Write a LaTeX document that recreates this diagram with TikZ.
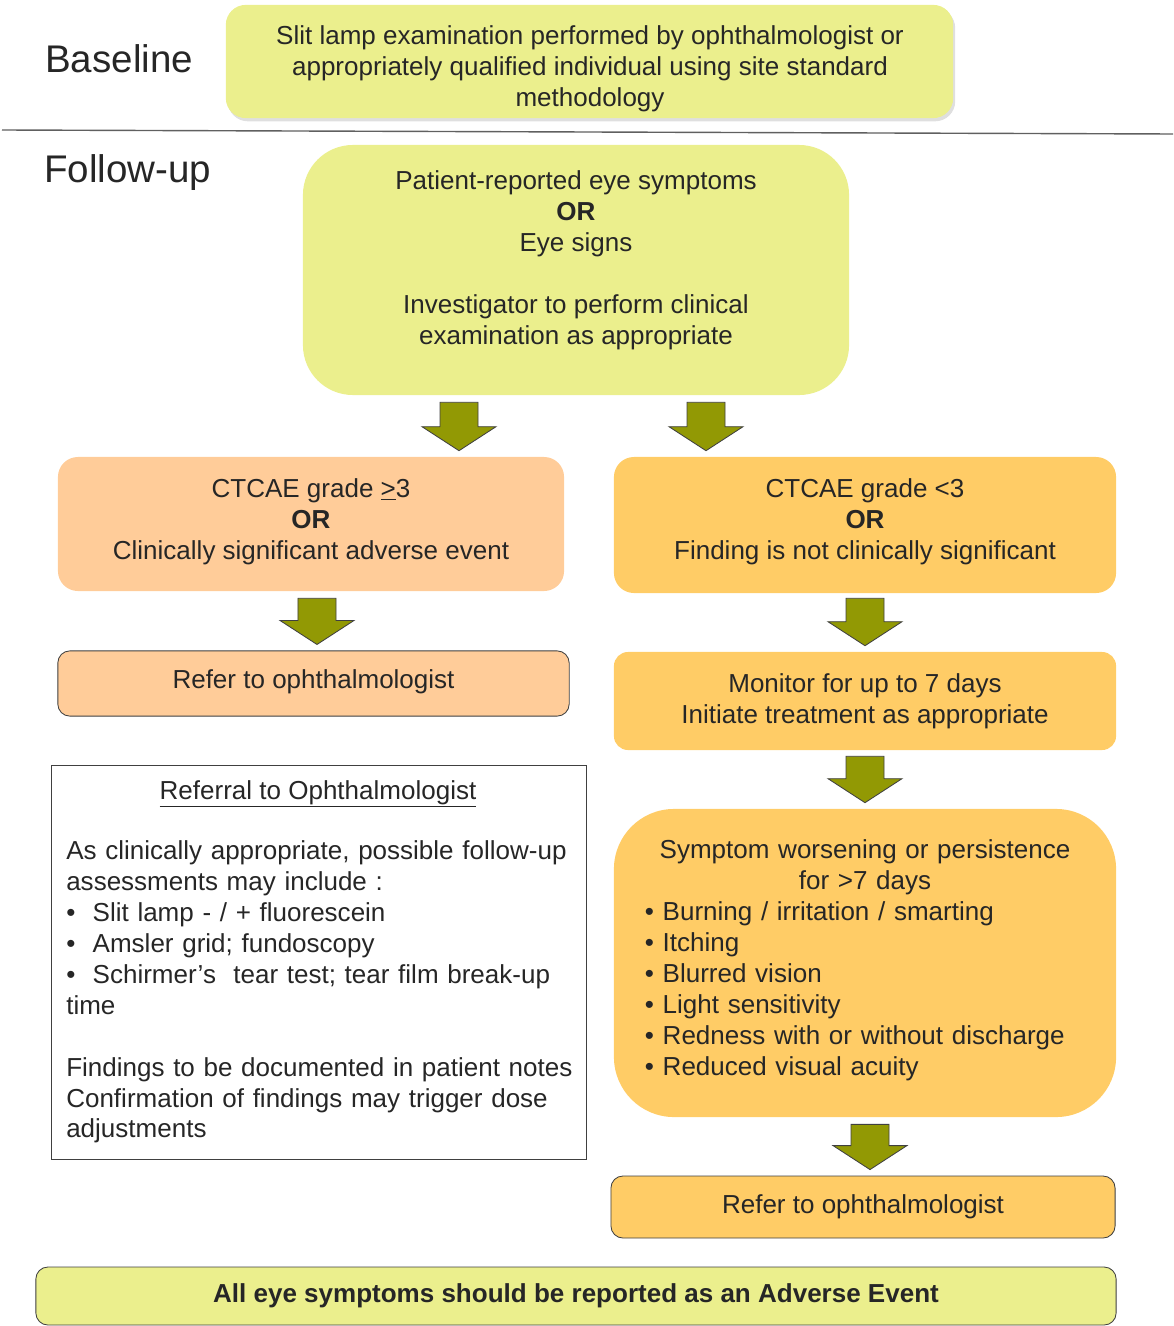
\documentclass[tikz,border=0pt]{standalone}
\usepackage{fontspec}
\setmainfont{Liberation Sans}
\usetikzlibrary{calc,shadows}

\definecolor{colYel}{HTML}{EBEF8D}
\definecolor{colPeach}{HTML}{FFCC99}
\definecolor{colOrange}{HTML}{FFCC66}
\definecolor{colOlive}{HTML}{929904}
\definecolor{colEdge}{HTML}{404040}
\definecolor{colText}{HTML}{262626}
\definecolor{colRule}{HTML}{606060}

\begin{document}
\begin{tikzpicture}[x=0.025cm,y=-0.025cm,
  every node/.style={font=\fontsize{18.5pt}{22pt}\selectfont, text=colText},
  box/.style={rounded corners=0.5cm, inner sep=0pt, align=center},
  yelbox/.style={box, fill=colYel},
  peachbox/.style={box, fill=colPeach},
  orangebox/.style={box, fill=colOrange},
  edged/.style={draw=colEdge, line width=0.6pt, rounded corners=0.3cm},
  heading/.style={font=\fontsize{27.4pt}{33pt}\selectfont, anchor=base west, inner sep=0pt},
  fatarrow/.style={fill=colOlive, draw=colEdge, line width=0.6pt,
    to path={($(\tikztostart)+(-0.475cm,0)$) -- ($(\tikztostart)+(0.475cm,0)$)
      -- ($(\tikztotarget)+(0.475cm,0.6cm)$) -- ($(\tikztotarget)+(0.925cm,0.6cm)$)
      -- (\tikztotarget) -- ($(\tikztotarget)+(-0.925cm,0.6cm)$)
      -- ($(\tikztotarget)+(-0.475cm,0.6cm)$) -- cycle}}]

\useasboundingbox (0,0) rectangle (1173,1326);

\coordinate (cA1) at (459,0);
\coordinate (cA2) at (706,0);
\coordinate (cA3) at (317,0);
\coordinate (cA4) at (865,0);
\coordinate (cA6) at (870,0);

% section headings
\node[heading] (hBase) at (45,73) {Baseline};
\node[heading] (hFollow) at (44,183) {Follow-up};
\draw[colRule, line width=1pt] (2,130) -- (1173,134);

% baseline
\node[yelbox, minimum width=18.18cm, minimum height=2.83cm,
  drop shadow={shadow xshift=0.05cm, shadow yshift=-0.08cm, opacity=0.25}] (base) at (589.5,61.5) {};
\node[align=center, inner sep=0pt] (baseTxt) at (590,68.5)
  {Slit lamp examination performed by ophthalmologist or\\
   appropriately qualified individual using site standard\\
   methodology};

% follow-up
\node[yelbox, rounded corners=1.25cm, minimum width=13.65cm, minimum height=6.25cm] (sympt) at (576,270) {};
\node[align=center, inner sep=0pt] (symptTxt) at (576,260.5)
  {Patient-reported eye symptoms\\ \textbf{OR}\\ Eye signs\\[22pt]
   Investigator to perform clinical\\ examination as appropriate};

\node[peachbox, minimum width=12.65cm, minimum height=3.35cm] (gradeHi) at (311,524) {};
\node[align=center, inner sep=0pt] (gradeHiTxt) at (311,522)
  {CTCAE grade \underline{>}3\\ \textbf{OR}\\ Clinically significant adverse event};
\node[orangebox, minimum width=12.55cm, minimum height=3.4cm] (gradeLo) at (865,525) {};
\node[align=center, inner sep=0pt] (gradeLoTxt) at (865,522)
  {CTCAE grade <3\\ \textbf{OR}\\ Finding is not clinically significant};

\node[peachbox, edged, minimum width=12.78cm, minimum height=1.63cm] (referL) at (313.5,683.5) {};
\node[inner sep=0pt] (referLTxt) at (313.5,681.5) {Refer to ophthalmologist};
\node[orangebox, rounded corners=0.35cm, minimum width=12.55cm, minimum height=2.45cm] (monitor) at (865,701)
  {Monitor for up to 7 days\\ Initiate treatment as appropriate};

% referral notes
\node[draw=colEdge, line width=0.6pt, inner sep=0pt, minimum width=13.375cm, minimum height=9.85cm] (refInfo) at (318.5,962) {};
\node[anchor=base, inner sep=0pt] (refTitle) at (318,799) {\underline{Referral to Ophthalmologist}};
\node[anchor=west, inner sep=0pt, text width=13cm, align=left] (refTxt) at (66,992)
  {As clinically appropriate, possible follow-up\\
   assessments may include :\\
   \textbullet\ \ Slit lamp - / + fluorescein\\
   \textbullet\ \ Amsler grid; fundoscopy\\
   \textbullet\ \ Schirmer’s\ \ tear test; tear film break-up\\
   time\\[22pt]
   Findings to be documented in patient notes\\
   Confirmation of findings may trigger dose\\
   adjustments};

\node[orangebox, rounded corners=1.5cm, inner xsep=0.775cm, text width=11cm, minimum height=7.7cm,
  align=left] (worsen) at (865,963) {};
\node[inner sep=0pt, text width=11cm, align=left] (worsenTxt) at (865,960)
  {{\centering Symptom worsening or persistence\\ for >7 days\par}
   \textbullet\ Burning / irritation / smarting\\
   \textbullet\ Itching\\
   \textbullet\ Blurred vision\\
   \textbullet\ Light sensitivity\\
   \textbullet\ Redness with or without discharge\\
   \textbullet\ Reduced visual acuity};

\node[orangebox, edged, minimum width=12.6cm, minimum height=1.55cm] (referR) at (863,1207)
  {Refer to ophthalmologist};

\node[yelbox, edged, minimum width=27cm, minimum height=1.45cm] (allAE) at (576,1296)
  {\textbf{All eye symptoms should be reported as an Adverse Event}};

% arrows
\draw[fatarrow] ($(sympt.south -| cA1)+(0,7)$) to ($(gradeHi.north -| cA1)+(0,-6)$);
\draw[fatarrow] ($(sympt.south -| cA2)+(0,7)$) to ($(gradeLo.north -| cA2)+(0,-6)$);
\draw[fatarrow] ($(gradeHi.south -| cA3)+(0,7)$) to ($(referL.north -| cA3)+(0,-6)$);
\draw[fatarrow] ($(gradeLo.south -| cA4)+(0,5)$) to ($(monitor.north -| cA4)+(0,-6)$);
\draw[fatarrow] ($(monitor.south -| cA4)+(0,6)$) to ($(worsen.north -| cA4)+(0,-6)$);
\draw[fatarrow] ($(worsen.south -| cA6)+(0,7)$) to ($(referR.north -| cA6)+(0,-6)$);

\end{tikzpicture}
\end{document}
